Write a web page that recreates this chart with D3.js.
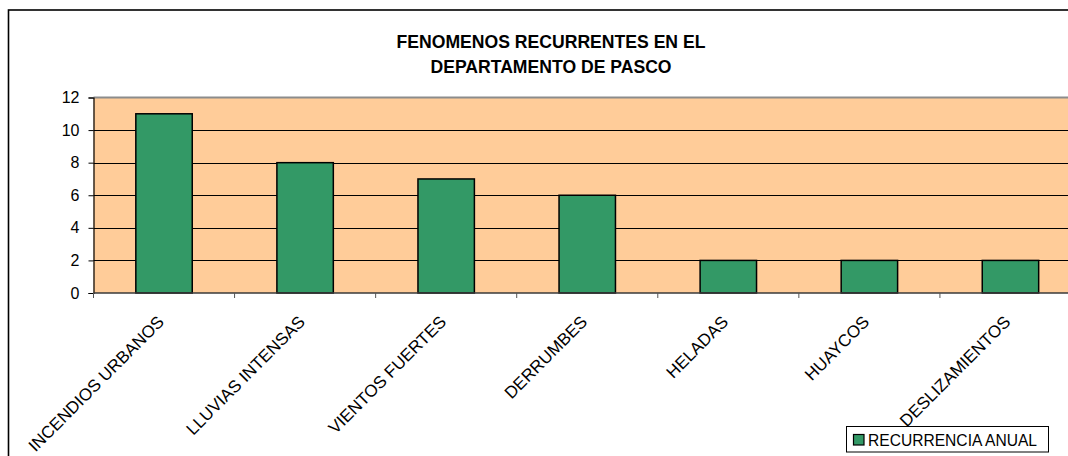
<!DOCTYPE html>
<html lang="es">
<head>
<meta charset="UTF-8"/>
<title>Fenomenos recurrentes en el departamento de Pasco</title>
<script src="https://d3js.org/d3.v7.min.js"></script>
<style>
body { margin: 0; background: #fff; }
svg { display: block; }
text { font-family: 'Liberation Sans', Arial, sans-serif; fill: #000; }
.title { font-size: 17.6px; font-weight: bold; }
.ylab { font-size: 16px; }
.xlab { font-size: 17px; }
.legend text { font-size: 15.6px; }
.bar { fill: #339966; stroke: #000; stroke-width: 1.5; }
.grid line { stroke: #000; stroke-width: 1; }
</style>
</head>
<body>
<svg id="chart" width="1068" height="456"></svg>
<script>
const categories = ['INCENDIOS URBANOS', 'LLUVIAS INTENSAS', 'VIENTOS FUERTES', 'DERRUMBES', 'HELADAS', 'HUAYCOS', 'DESLIZAMIENTOS'];
const recurrencia = [11, 8, 7, 6, 2, 2, 2];
const yTicks = [0, 2, 4, 6, 8, 10, 12];
const titleLines = ['FENOMENOS RECURRENTES EN EL', 'DEPARTAMENTO DE PASCO'];
const seriesName = 'RECURRENCIA ANUAL';

const data = categories.map((c, i) => ({ name: c, value: recurrencia[i] }));

const svg = d3.select('#chart');

// plot area box
const plotL = 93.5, plotR = 1081, plotT = 97.5, plotB = 293;

const x = d3.scaleBand()
  .domain(categories)
  .range([plotL, plotR])
  .paddingInner(0.6)
  .paddingOuter(0.3);

const y = d3.scaleLinear()
  .domain([0, 12])
  .range([plotB, plotT]);

// chart border
svg.append('rect')
  .attr('x', 8.5).attr('y', 10)
  .attr('width', 1100).attr('height', 480)
  .attr('fill', '#fff')
  .attr('stroke', '#000')
  .attr('stroke-width', 1.6);

// plot background
svg.append('rect')
  .attr('x', plotL).attr('y', plotT)
  .attr('width', plotR - plotL).attr('height', plotB - plotT)
  .attr('fill', '#FFCC99');

// horizontal grid lines
svg.append('g')
  .attr('class', 'grid')
  .selectAll('line')
  .data(yTicks.filter(t => t > 0 && t < 12))
  .enter().append('line')
  .attr('x1', plotL).attr('x2', plotR)
  .attr('y1', d => Math.round(y(d)) + 0.5)
  .attr('y2', d => Math.round(y(d)) + 0.5);

// top plot border
svg.append('line')
  .attr('x1', plotL).attr('x2', plotR)
  .attr('y1', y(12)).attr('y2', y(12))
  .attr('stroke', '#8c8c8c').attr('stroke-width', 2);

// title
svg.append('text')
  .attr('class', 'title')
  .attr('text-anchor', 'middle')
  .selectAll('tspan')
  .data(titleLines)
  .enter().append('tspan')
  .attr('x', 551)
  .attr('y', (d, i) => 48 + i * 25)
  .text(d => d);

// bars
svg.append('g')
  .selectAll('rect')
  .data(data)
  .enter().append('rect')
  .attr('class', 'bar')
  .attr('x', d => x(d.name))
  .attr('y', d => y(d.value))
  .attr('width', x.bandwidth())
  .attr('height', d => y(0) - y(d.value));

// y axis
const yAxis = d3.axisLeft(y)
  .tickValues(yTicks)
  .tickSize(5)
  .tickPadding(9);
const gy = svg.append('g')
  .attr('transform', `translate(${plotL},0)`)
  .call(yAxis);
gy.select('.domain').attr('stroke', '#000').attr('stroke-width', 1.2);
gy.selectAll('.tick line').attr('stroke', '#000');
gy.selectAll('.tick text').attr('class', 'ylab').attr('fill', '#000');

// x axis line and boundary ticks
const boundaries = categories.map(c => x(c) - x.step() * x.paddingOuter());
svg.append('line')
  .attr('x1', plotL).attr('x2', plotR)
  .attr('y1', plotB).attr('y2', plotB)
  .attr('stroke', '#3a3a3a').attr('stroke-width', 1.5);
svg.append('g')
  .selectAll('line')
  .data(boundaries)
  .enter().append('line')
  .attr('x1', d => d).attr('x2', d => d)
  .attr('y1', plotB).attr('y2', plotB + 5)
  .attr('stroke', '#555');

// rotated category labels
svg.append('g')
  .selectAll('text')
  .data(categories)
  .enter().append('text')
  .attr('class', 'xlab')
  .attr('text-anchor', 'end')
  .attr('transform', d => `translate(${x(d) + x.bandwidth() / 2 + 1},${plotB + 30}) rotate(-45)`)
  .text(d => d);

// legend
const legend = svg.append('g').attr('class', 'legend');
legend.append('rect')
  .attr('x', 846.5).attr('y', 426.5)
  .attr('width', 202).attr('height', 25.5)
  .attr('fill', '#fff')
  .attr('stroke', '#000');
legend.append('rect')
  .attr('x', 853.5).attr('y', 434.5)
  .attr('width', 10.5).attr('height', 10.5)
  .attr('fill', '#339966')
  .attr('stroke', '#000')
  .attr('stroke-width', 1.2);
legend.append('text')
  .attr('x', 868).attr('y', 445.5)
  .text(seriesName);
</script>
</body>
</html>
